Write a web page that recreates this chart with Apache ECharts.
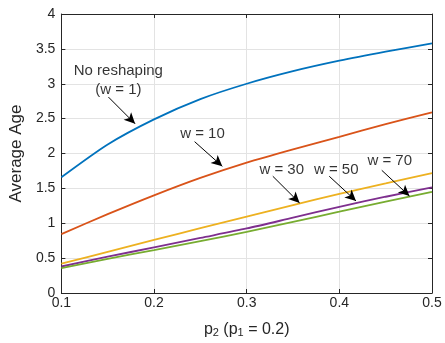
<!DOCTYPE html>
<html>
<head>
<meta charset="utf-8">
<script src="https://cdn.jsdelivr.net/npm/echarts@6/dist/echarts.min.js"></script>
<style>
html,body{margin:0;padding:0;background:#fff;}
#c{width:445px;height:343px;}
</style>
</head>
<body>
<div id="c"></div>
<script>
// ---- data ----
const p2 = [0.1, 0.15, 0.2, 0.25, 0.3, 0.35, 0.4, 0.45, 0.5];
const w1  = [1.66, 2.13, 2.49, 2.78, 3.00, 3.18, 3.33, 3.46, 3.58];
const w10 = [0.845, 1.13, 1.40, 1.65, 1.87, 2.06, 2.24, 2.42, 2.59];
const w30 = [0.42, 0.59, 0.76, 0.93, 1.095, 1.26, 1.42, 1.57, 1.72];
const w50 = [0.38, 0.52, 0.655, 0.79, 0.925, 1.08, 1.235, 1.38, 1.515];
const w70 = [0.355, 0.49, 0.615, 0.745, 0.875, 1.02, 1.165, 1.31, 1.45];
const seriesNames = ['w = 1', 'w = 10', 'w = 30', 'w = 50', 'w = 70'];
const seriesColors = ['#0072BD', '#D95319', '#EDB120', '#7E2F8E', '#77AC30'];
const xTicks = [0.1, 0.2, 0.3, 0.4, 0.5];
const yTicks = [0, 0.5, 1, 1.5, 2, 2.5, 3, 3.5, 4];
// annotation text: [x, y, text]
const annoText = [
  [0.1615, 3.19, 'No reshaping'],
  [0.1615, 2.91, '(w = 1)'],
  [0.2523, 2.284, 'w = 10'],
  [0.3378, 1.759, 'w = 30'],
  [0.3966, 1.759, 'w = 50'],
  [0.4544, 1.90, 'w = 70']
];
// arrows: [x1, y1, x2, y2] (tail -> head)
const annoArrows = [
  [0.1508, 2.809, 0.1796, 2.426],
  [0.2438, 2.170, 0.2737, 1.816],
  [0.3282, 1.674, 0.3571, 1.291],
  [0.3891, 1.674, 0.4180, 1.319],
  [0.4458, 1.759, 0.4757, 1.390]
];

const allY = [w1, w10, w30, w50, w70];
const FONT = '"Liberation Sans", Arial, Helvetica, sans-serif';
const AX = '#262626';

const chart = echarts.init(document.getElementById('c'), null, {renderer: 'canvas'});

const baseAxis = {
  type: 'value',
  axisLine: {show: true, onZero: false, lineStyle: {color: AX, width: 1}},
  axisTick: {show: true, inside: true, length: 4, lineStyle: {color: AX}},
  splitLine: {show: false},
  axisLabel: {show: false}
};

const lineSeries = allY.map((ys, i) => ({
  type: 'line',
  name: seriesNames[i],
  data: p2.map((x, j) => [x, ys[j]]),
  showSymbol: false,
  symbol: 'none',
  smooth: 0.25,
  lineStyle: {color: seriesColors[i], width: 1.8},
  z: 3,
  silent: true
}));

const option = {
  animation: false,
  backgroundColor: '#fff',
  grid: {left: 57, right: 13, top: 14, bottom: 47, containLabel: false},
  xAxis: [
    Object.assign({}, baseAxis, {
      position: 'bottom', min: 0.1, max: 0.5, interval: 0.1,
      axisLabel: {show: true, color: AX, fontSize: 14, fontFamily: FONT, margin: 3,
        formatter: v => xTicks.some(t => Math.abs(t - v) < 1e-9) ? v.toFixed(1) : ''},
      splitLine: {show: true, lineStyle: {color: '#e3e3e3', width: 1}},
      name: '{a|p}{s|2}{a| (p}{s|1}{a| = 0.2)}',
      nameLocation: 'middle', nameGap: 25,
      nameTextStyle: {
        color: AX, fontFamily: FONT,
        rich: {
          a: {fontSize: 16, fontFamily: FONT, color: AX, lineHeight: 20, verticalAlign: 'bottom'},
          s: {fontSize: 11, fontFamily: FONT, color: AX, lineHeight: 8, verticalAlign: 'bottom'}
        }
      }
    }),
    Object.assign({}, baseAxis, {position: 'top', min: 0.1, max: 0.5, interval: 0.1})
  ],
  yAxis: [
    Object.assign({}, baseAxis, {
      position: 'left', min: 0, max: 4, interval: 0.5,
      axisLabel: {show: true, color: AX, fontSize: 14, fontFamily: FONT, margin: 6,
        formatter: v => yTicks.some(t => Math.abs(t - v) < 1e-9) ? String(v) : ''},
      splitLine: {show: true, lineStyle: {color: '#e3e3e3', width: 1}},
      name: 'Average Age', nameLocation: 'middle', nameGap: 31,
      nameTextStyle: {color: AX, fontSize: 17, fontFamily: FONT}
    }),
    Object.assign({}, baseAxis, {position: 'right', min: 0, max: 4, interval: 0.5})
  ],
  series: lineSeries.concat([{
    type: 'scatter',
    data: annoText.map(a => ({value: [a[0], a[1]], label: {formatter: a[2]}})),
    symbolSize: 1,
    itemStyle: {color: 'rgba(0,0,0,0)'},
    label: {show: true, position: 'inside', color: '#000', fontSize: 15, fontFamily: FONT},
    silent: true,
    z: 5,
    markLine: {
      silent: true,
      animation: false,
      symbol: ['none', 'arrow'],
      symbolSize: [8, 11],
      label: {show: false},
      lineStyle: {color: '#000', width: 1, type: 'solid'},
      emphasis: {disabled: true},
      data: annoArrows.map(a => [{coord: [a[0], a[1]]}, {coord: [a[2], a[3]]}])
    }
  }])
};
chart.setOption(option);
</script>
</body>
</html>
